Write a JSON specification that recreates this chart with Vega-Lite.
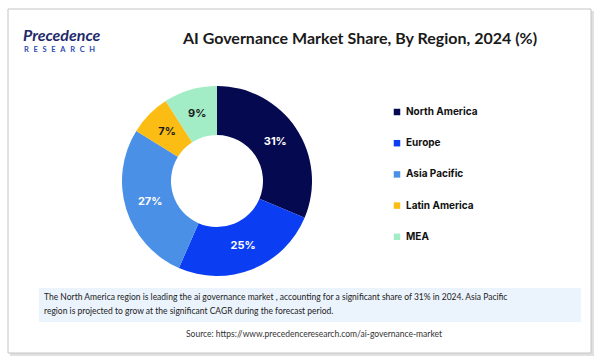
{
  "$schema": "https://vega.github.io/schema/vega-lite/v6.json",
  "width": 602,
  "height": 364,
  "autosize": {"type": "fit", "contains": "padding"},
  "padding": {"left": 7, "top": 8, "right": 12, "bottom": 12},
  "background": "white",
  "config": {"view": {"stroke": null}, "font": "Lato"},
  "datasets": {
    "share": [
      {"region": "North America", "share": 31, "rank": 1},
      {"region": "Europe", "share": 25, "rank": 2},
      {"region": "Asia Pacific", "share": 27, "rank": 3},
      {"region": "Latin America", "share": 7, "rank": 4},
      {"region": "MEA", "share": 9, "rank": 5}
    ],
    "one": [{"a": 1}]
  },
  "layer": [
    {
      "data": {"name": "one"},
      "mark": {"type": "rect", "x": 2, "y": 2, "x2": 586, "y2": 347, "fill": "#d9d9d9", "opacity": 0.8},
      "encoding": {}
    },
    {
      "data": {"name": "one"},
      "mark": {"type": "rect", "x": 0, "y": 0, "x2": 583, "y2": 344, "fill": "white", "stroke": "#c4c4c4", "strokeWidth": 1},
      "encoding": {}
    },
    {
      "data": {"name": "one"},
      "mark": {"type": "rect", "x": 31, "y": 279, "x2": 573, "y2": 313, "fill": "#ebf3fc"},
      "encoding": {}
    },
    {
      "data": {"name": "one"},
      "mark": {"type": "rule", "x": 9, "x2": 577, "y": 54, "y2": 54, "stroke": "#2a2c6b", "strokeWidth": 1.5},
      "encoding": {}
    },
    {
      "data": {"name": "share"},
      "mark": {"type": "arc", "x": 209, "y": 172, "outerRadius": 95, "innerRadius": 46},
      "encoding": {
        "theta": {"field": "share", "type": "quantitative", "stack": true},
        "order": {"field": "rank", "type": "quantitative"},
        "color": {
          "field": "region",
          "type": "nominal",
          "scale": {
            "domain": ["North America", "Europe", "Asia Pacific", "Latin America", "MEA"],
            "range": ["#05094f", "#0b3ef2", "#4a90e6", "#fbbd14", "#a2ecc6"]
          },
          "legend": {
            "title": null,
            "orient": "none",
            "legendX": 384,
            "legendY": 98,
            "symbolType": "square",
            "symbolSize": 42,
            "symbolStrokeWidth": 0,
            "labelFont": "Inter",
            "labelFontWeight": "bold",
            "labelFontSize": 10,
            "labelColor": "#111111",
            "labelOffset": 4,
            "rowPadding": 21.2
          }
        }
      }
    },
    {
      "data": {"name": "share"},
      "transform": [{"calculate": "datum.share + '%'", "as": "lbl"}],
      "mark": {"type": "text", "x": 209, "y": 172, "radius": 70, "font": "Inter", "fontWeight": "bold", "fontSize": 11},
      "encoding": {
        "theta": {"field": "share", "type": "quantitative", "stack": true},
        "order": {"field": "rank", "type": "quantitative"},
        "text": {"field": "lbl", "type": "nominal"},
        "color": {
          "condition": {"test": "datum.share < 10", "value": "#1a1a1a"},
          "value": "white"
        }
      }
    },
    {
      "data": {"name": "one"},
      "mark": {"type": "text", "x": 15, "y": 27, "align": "left", "baseline": "middle", "text": "Precedence", "font": "Lato", "fontSize": 16, "fontWeight": "bold", "fontStyle": "italic", "fill": "#1f2a6b"},
      "encoding": {}
    },
    {
      "data": {"name": "one"},
      "mark": {"type": "text", "x": 16, "y": 41, "align": "left", "baseline": "middle", "text": "R\u2002\u2009E\u2002\u2009S\u2002\u2009E\u2002\u2009A\u2002\u2009R\u2002\u2009C\u2002\u2009H", "font": "Lato", "fontSize": 7.5, "fontWeight": "bold", "fill": "#2c4bb0"},
      "encoding": {}
    },
    {
      "data": {"name": "one"},
      "mark": {"type": "text", "x": 352, "y": 30, "align": "center", "baseline": "middle", "text": "AI Governance Market Share, By Region, 2024 (%)", "font": "Lato", "fontSize": 16, "fontWeight": "bold", "fill": "#1a1a1a"},
      "encoding": {}
    },
    {
      "data": {"name": "one"},
      "mark": {"type": "text", "x": 36, "y": 288, "align": "left", "baseline": "middle", "text": "The North America region is leading the ai governance market , accounting for a significant share of 31% in 2024. Asia Pacific", "font": "Lato", "fontSize": 8.5, "fill": "#222222"},
      "encoding": {}
    },
    {
      "data": {"name": "one"},
      "mark": {"type": "text", "x": 36, "y": 302, "align": "left", "baseline": "middle", "text": "region is projected to grow at the significant CAGR during the forecast period.", "font": "Lato", "fontSize": 8.5, "fill": "#222222"},
      "encoding": {}
    },
    {
      "data": {"name": "one"},
      "mark": {"type": "text", "x": 306, "y": 325, "align": "center", "baseline": "middle", "text": "Source: https://www.precedenceresearch.com/ai-governance-market", "font": "Lato", "fontSize": 8.5, "fill": "#333333"},
      "encoding": {}
    }
  ]
}
